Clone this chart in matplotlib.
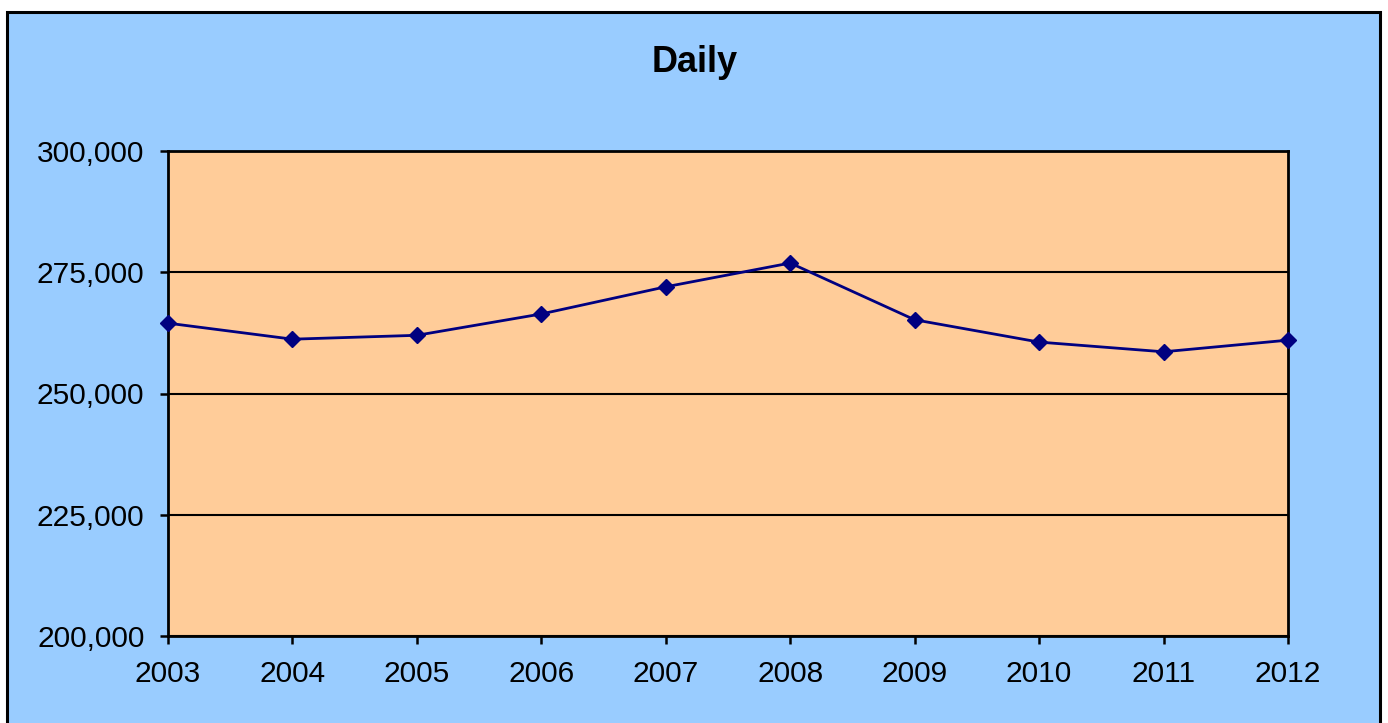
import matplotlib.pyplot as plt
from matplotlib.patches import Rectangle
from matplotlib.ticker import FuncFormatter

plt.rcParams['font.family'] = ['Liberation Sans', 'DejaVu Sans']

# data
years = [2003, 2004, 2005, 2006, 2007, 2008, 2009, 2010, 2011, 2012]
daily = [264500, 261200, 262000, 266400, 272000, 276900, 265200, 260600, 258600, 261000]

fig = plt.figure(figsize=(13.88, 7.23), dpi=100)
fig.patch.set_facecolor('white')

# outer blue chart area with black frame
bg = Rectangle((7 / 1388, -0.01), 1373 / 1388, 1 - 12 / 723 + 0.01,
               transform=fig.transFigure, facecolor='#99CCFF',
               edgecolor='black', linewidth=2.2, zorder=-1)
fig.patches.append(bg)

ax = fig.add_axes([168 / 1388, 87 / 723, 1120 / 1388, 485 / 723])
ax.set_zorder(1)
ax.set_facecolor('#FFCC99')

ax.plot(years, daily, color='#000080', linewidth=2.0, marker='D',
        markersize=8, markerfacecolor='#000080', markeredgecolor='#000080',
        zorder=3, clip_on=False)

ax.set_xlim(2003, 2012)
ax.set_ylim(200000, 300000)
ax.set_xticks(years)
ax.set_yticks([200000, 225000, 250000, 275000, 300000])
ax.yaxis.set_major_formatter(FuncFormatter(lambda v, p: f'{int(v):,}'))
ax.grid(axis='y', color='black', linewidth=1.5)
ax.set_axisbelow(True)

for s in ax.spines.values():
    s.set_linewidth(2)
    s.set_color('black')

ax.tick_params(axis='both', direction='out', length=6, width=1.8, labelsize=21.5, colors='black')
ax.tick_params(axis='x', pad=11)
ax.tick_params(axis='y', pad=11)

fig.text(695 / 1388, 1 - 62 / 723, 'Daily', ha='center', va='center',
         fontsize=26, fontweight='bold', zorder=2)

fig.savefig('out.png', dpi=100)
